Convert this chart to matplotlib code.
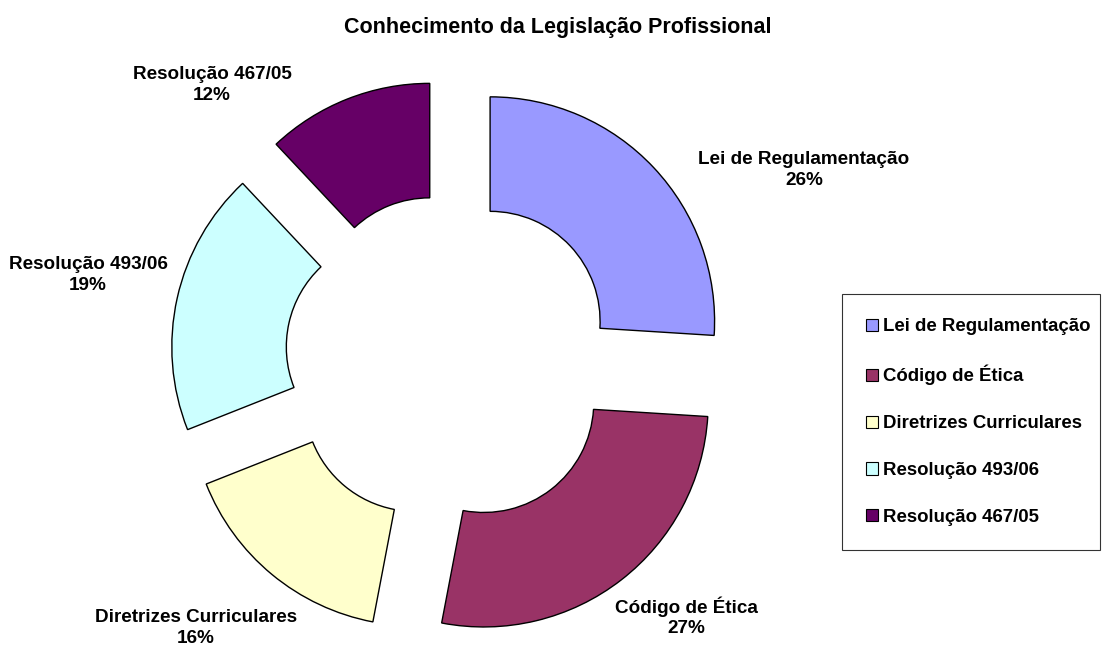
import matplotlib
matplotlib.use("Agg")
import matplotlib.pyplot as plt
from matplotlib.patches import Patch

plt.rcParams["font.family"] = ["Liberation Sans", "DejaVu Sans"]
plt.rcParams["font.weight"] = "bold"

categories = ["Lei de Regulamentação", "Código de Ética", "Diretrizes Curriculares",
              "Resolução 493/06", "Resolução 467/05"]
values = [26, 27, 16, 19, 12]
colors = ["#9999FF", "#993366", "#FFFFCC", "#CCFFFF", "#660066"]
title = "Conhecimento da Legislação Profissional"

# label positions in pixels (from top-left), layout only
label_px = [(804, 170), (686, 617), (196, 628), (88, 275), (212, 85)]

W, H = 1102, 648
cx, cy, R = 450, 359, 224.5  # pie centre / radius in pixels

fig = plt.figure(figsize=(W / 100, H / 100), dpi=100)
ax = fig.add_axes([0, 0, 1, 1])
wedges, _ = ax.pie(values, colors=colors, startangle=90, counterclock=False,
                   explode=[0.245] * len(values), radius=1.0,
                   wedgeprops=dict(width=0.51, edgecolor="black", linewidth=1.0))
ax.set_xlim(-cx / R, (W - cx) / R)
ax.set_ylim(-(H - cy) / R, cy / R)
ax.set_aspect("equal", adjustable="datalim")
ax.axis("off")

total = sum(values)
for (px, py), name, v in zip(label_px, categories, values):
    fig.text(px / W, 1 - py / H, f"{name}\n{round(100 * v / total)}%",
             ha="center", va="center", fontsize=13.6, fontweight="bold",
             linespacing=1.25)

fig.text(558 / W, 1 - 27 / H, title, ha="center", va="center",
         fontsize=15.5, fontweight="bold")

handles = [Patch(facecolor=c, edgecolor="black", linewidth=0.8) for c in colors]
leg = fig.legend(handles, categories, loc="upper left",
                 bbox_to_anchor=(842 / W, 1 - 548 / H, 258 / W, 254 / H),
                 mode="expand", frameon=True, fancybox=False, fontsize=13.4,
                 handlelength=0.62, handleheight=0.62, handletextpad=0.3,
                 labelspacing=1.6, borderpad=1.3, borderaxespad=0)
leg.get_frame().set_edgecolor("black")
leg.get_frame().set_linewidth(0.8)
for t in leg.get_texts():
    t.set_fontweight("bold")

fig.savefig("out.png", dpi=100)
